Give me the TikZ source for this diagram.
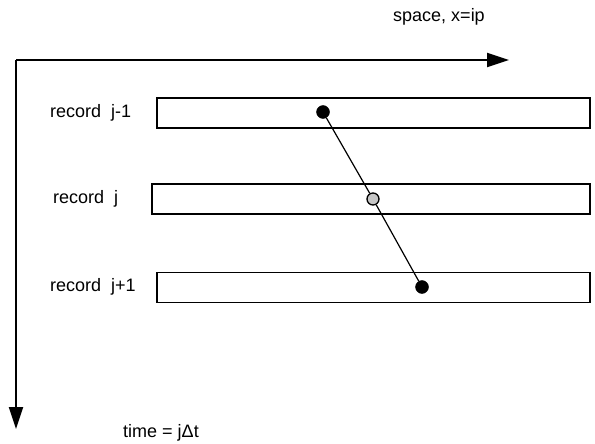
\documentclass[tikz,border=0pt]{standalone}
\usepackage{fontspec}
\setmainfont{Liberation Sans}
\usetikzlibrary{arrows.meta}

\begin{document}
\begin{tikzpicture}[x=1pt,y=-1pt,
        recbox/.style={draw,line width=1.6pt,minimum height=30pt,inner sep=0pt},
        dot/.style={circle,draw,fill,inner sep=0pt,minimum size=13pt},
        lbl/.style={font=\fontsize{18}{21}\selectfont,inner sep=0pt}]
    \useasboundingbox (0,0) rectangle (595,444);
    % axis
    \coordinate (o) at (16,60);
    \coordinate (xend) at (509,60);
    \coordinate (yend) at (16,429);
    \draw[line width=1.8pt,-{Triangle[length=22pt,width=14pt]}] (o) -- (xend);
    \draw[line width=1.8pt,-{Triangle[length=22pt,width=14pt]}] (o) -- (yend);
    \node[lbl] (xlab) at (439,17) {space, x=ip};
    \node[lbl] (tlab) at (161,433) {time = jΔt};
    % records
    \node[recbox,minimum width=433pt] (r1) at (373.5,113) {};
    \node[recbox,minimum width=438pt] (r2) at (371,199) {};
    \node[recbox,minimum width=433pt] (r3) at (373.5,287.5) {};
    \node[lbl,anchor=west] (l1) at (50,113) {record\ \ j-1};
    \node[lbl,anchor=west] (l2) at (53,199) {record\ \ j};
    \node[lbl,anchor=west] (l3) at (50,287) {record\ \ j+1};
    % points
    \node[dot] (p1) at (323,112) {};
    \node[dot,fill=gray!45,minimum size=12pt,line width=1.3pt] (p2) at (373,199) {};
    \node[dot] (p3) at (422,287) {};
    \draw[line width=1.2pt] (p1) -- (p2) -- (p3);
\end{tikzpicture}
\end{document}
